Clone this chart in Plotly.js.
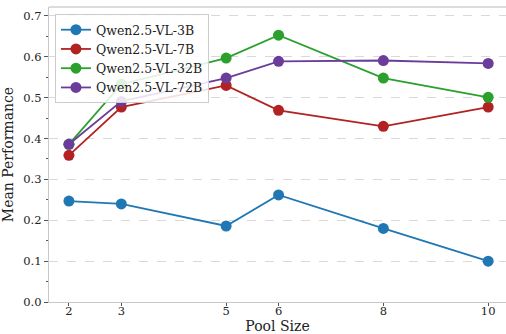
<!DOCTYPE html>
<html><head><meta charset="utf-8">
<script src="https://cdn.plot.ly/plotly-3.0.1.min.js"></script>
<style>html,body{margin:0;padding:0;background:#fff;}#chart{width:506px;height:334px;}</style>
</head><body><div id="chart"></div>
<script>
const poolSizes = [2, 3, 5, 6, 8, 10];
const seriesNames = ["Qwen2.5-VL-3B", "Qwen2.5-VL-7B", "Qwen2.5-VL-32B", "Qwen2.5-VL-72B"];
const qwen3B  = [0.247, 0.240, 0.186, 0.262, 0.180, 0.100];
const qwen7B  = [0.359, 0.477, 0.530, 0.469, 0.430, 0.477];
const qwen32B = [0.386, 0.533, 0.597, 0.653, 0.548, 0.501];
const qwen72B = [0.386, 0.491, 0.548, 0.589, 0.591, 0.584];
const colors = ["#1f77b4", "#b22222", "#2ca02c", "#6a3d9a"];
const values = [qwen3B, qwen7B, qwen32B, qwen72B];

const traces = values.map((v, i) => ({
  x: poolSizes, y: v, name: seriesNames[i], type: "scatter", mode: "lines+markers",
  line: {color: colors[i], width: 1.8},
  marker: {color: colors[i], size: 11}
}));

const FAM = "DejaVu Serif";
const font = {family: FAM, color: "#222", size: 11};
const layout = {
  width: 506, height: 334,
  margin: {l: 49, r: 0, t: 7, b: 32},
  paper_bgcolor: "#fff", plot_bgcolor: "#fff",
  font: font,
  showlegend: true,
  legend: {x: 0.013, y: 0.976, xanchor: "left", yanchor: "top",
    bgcolor: "rgba(255,255,255,0.85)", bordercolor: "#cccccc", borderwidth: 1,
    font: {family: FAM, size: 12.5, color: "#222"},
    tracegroupgap: 0, itemwidth: 30},
  xaxis: {
    range: [1.62, 10.34], tickvals: poolSizes, ticktext: poolSizes.map(String),
    showgrid: false, zeroline: false,
    showline: true, linecolor: "#c8c8c8", linewidth: 1.2, mirror: false,
    ticks: "outside", ticklen: 3, tickcolor: "#555", tickwidth: 1,
    ticklabelstandoff: -5,
    tickfont: {family: FAM, size: 11.5, color: "#222"},
    title: {text: "Pool Size", font: {family: FAM, size: 14, color: "#222"}, standoff: 0}
  },
  yaxis: {
    range: [0, 0.722], dtick: 0.1, tickformat: ".1f",
    showgrid: true, gridcolor: "#d0d0d0", griddash: "dash", gridwidth: 0.8,
    zeroline: false, showline: true, linecolor: "#c8c8c8", linewidth: 1.2,
    ticks: "outside", ticklen: 4, tickcolor: "#555", tickwidth: 1,
    minor: {dtick: 0.05, ticks: "outside", ticklen: 2, tickcolor: "#555", showgrid: false},
    tickfont: {family: FAM, size: 11.5, color: "#222"},
    title: {text: "Mean Performance", font: {family: FAM, size: 14, color: "#222"}, standoff: 6}
  },
  shapes: [{type: "line", xref: "paper", yref: "paper", x0: 0, x1: 1, y0: 1, y1: 1,
    line: {color: "#d0d0d0", width: 1.5}}]
};
Plotly.newPlot("chart", traces, layout, {displayModeBar: false, staticPlot: true});
</script></body></html>
